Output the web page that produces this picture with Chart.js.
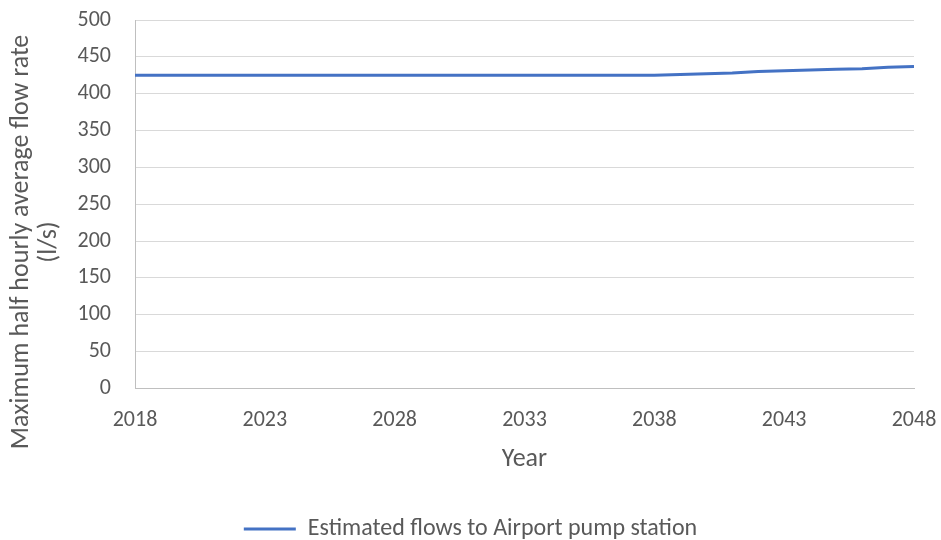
<!DOCTYPE html>
<html>
<head>
<meta charset="utf-8">
<script src="https://cdn.jsdelivr.net/npm/chart.js@4/dist/chart.umd.min.js"></script>
<style>
  html, body { margin: 0; padding: 0; background: #ffffff; }
  #wrap { width: 941px; height: 540px; }
</style>
</head>
<body>
<div id="wrap"><canvas id="chart" width="941" height="540"></canvas></div>
<script>
// Estimated peak flows arriving at the Airport pump station, by year
const years = [2018, 2019, 2020, 2021, 2022, 2023, 2024, 2025, 2026, 2027,
               2028, 2029, 2030, 2031, 2032, 2033, 2034, 2035, 2036, 2037,
               2038, 2039, 2040, 2041, 2042, 2043, 2044, 2045, 2046, 2047, 2048];
const flows = [425, 425, 425, 425, 425, 425, 425, 425, 425, 425,
               425, 425, 425, 425, 425, 425, 425, 425, 425, 425,
               425, 426, 427, 428, 430, 431, 432, 433, 434, 436, 437];
const seriesName = 'Estimated flows to Airport pump station';
const xTitle = 'Year';
const yTitle = ['Maximum half hourly average flow rate', '(l/s)'];

const FONT = "Carlito, Lato, 'Liberation Sans', sans-serif";
const TEXT = '#595959';
const BLUE = '#4472C4';

// Two-line rotated value-axis title, set down the left margin
const yTitlePlugin = {
  id: 'yTitle',
  afterDraw(chart) {
    const ctx = chart.ctx;
    ctx.save();
    ctx.fillStyle = TEXT;
    ctx.font = `26px ${FONT}`;
    ctx.textAlign = 'center';
    ctx.textBaseline = 'middle';
    const cy = 242;
    const xs = [21, 49];
    yTitle.forEach((line, i) => {
      ctx.save();
      ctx.translate(xs[i], cy);
      ctx.rotate(-Math.PI / 2);
      ctx.fillText(line, 0, 0);
      ctx.restore();
    });
    ctx.restore();
  }
};

new Chart(document.getElementById('chart'), {
  type: 'line',
  data: {
    datasets: [{
      label: seriesName,
      data: years.map((y, i) => ({ x: y, y: flows[i] })),
      borderColor: BLUE,
      backgroundColor: BLUE,
      borderWidth: 3,
      pointRadius: 0,
      tension: 0,
      fill: false
    }]
  },
  plugins: [yTitlePlugin],
  options: {
    responsive: false,
    animation: false,
    layout: { padding: { left: 0, right: 0, top: 0, bottom: -11 } },
    plugins: {
      tooltip: { enabled: false },
      legend: {
        position: 'bottom',
        labels: {
          usePointStyle: true,
          pointStyle: 'line',
          pointStyleWidth: 52,
          boxWidth: 52,
          color: TEXT,
          font: { family: FONT, size: 24 },
          padding: 0
        }
      }
    },
    scales: {
      x: {
        type: 'linear',
        min: 2018,
        max: 2048,
        afterFit(scale) {
          scale.paddingLeft = 0;
          scale.paddingRight = 27;
        },
        ticks: {
          stepSize: 5,
          color: TEXT,
          font: { family: FONT, size: 22 },
          padding: 19,
          callback: v => String(v)
        },
        grid: { display: false, drawTicks: false },
        border: { display: true, color: '#BFBFBF', width: 1 },
        title: {
          display: true,
          text: xTitle,
          color: TEXT,
          font: { family: FONT, size: 26 },
          padding: { top: -9, bottom: 42 }
        }
      },
      y: {
        min: 0,
        max: 500,
        afterFit(scale) {
          scale.width = 135;
          scale.paddingTop = 20;
        },
        ticks: {
          stepSize: 50,
          color: TEXT,
          font: { family: FONT, size: 22 },
          padding: 24
        },
        grid: { color: '#D9D9D9', lineWidth: 1, drawTicks: false },
        border: { display: true, color: '#BFBFBF', width: 1 }
      }
    }
  }
});
</script>
</body>
</html>
